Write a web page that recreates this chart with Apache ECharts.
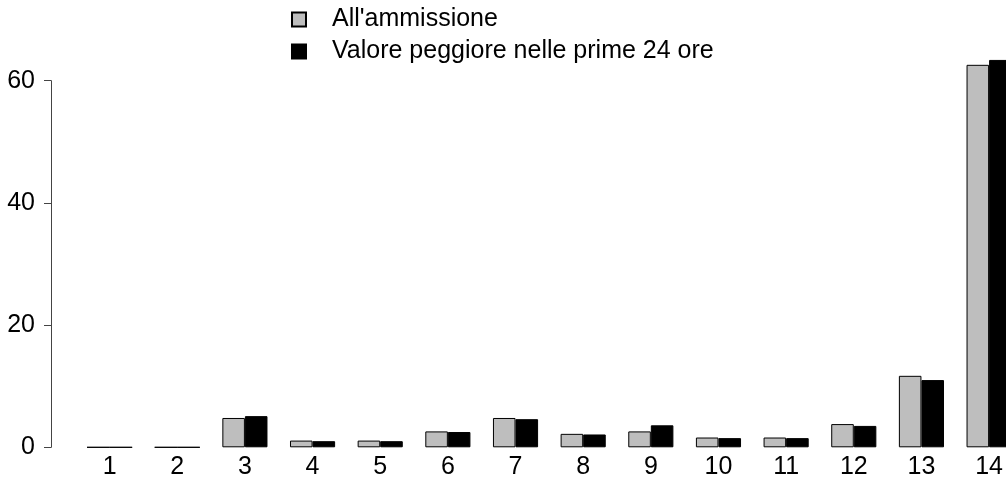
<!DOCTYPE html>
<html>
<head>
<meta charset="utf-8">
<script src="https://cdn.jsdelivr.net/npm/echarts@6/dist/echarts.min.js"></script>
<style>
  html, body { margin: 0; padding: 0; background: #fff; }
  #chart { width: 1006px; height: 482px; }
</style>
</head>
<body>
<div id="chart"></div>
<script>
const categories = ['1', '2', '3', '4', '5', '6', '7', '8', '9', '10', '11', '12', '13', '14']
const admission  = [0, 0, 4.8, 1.1, 1.1, 2.6, 4.8, 2.2, 2.6, 1.6, 1.6, 3.8, 11.7, 62.6]
const worst24h   = [0, 0, 5.1, 1.0, 1.0, 2.5, 4.6, 2.1, 3.6, 1.5, 1.5, 3.5, 11.0, 63.4]
const yTicks     = [0, 20, 40, 60]

const FONT = '"Liberation Sans", Arial, sans-serif'
const chart = echarts.init(document.getElementById('chart'), null, { renderer: 'canvas' })

const barStyle = color => ({ color, borderColor: '#000', borderWidth: 1 })

// category centres sit on the grid edges (boundaryGap false), so the last
// group can run past the right side of the canvas like the reference
chart.setOption({
  animation: false,
  backgroundColor: '#fff',
  textStyle: { fontFamily: FONT },
  legend: {
    orient: 'vertical',
    left: 291, top: 7, padding: 0,
    itemWidth: 14, itemHeight: 14,
    itemGap: 7,
    icon: 'rect',
    selectedMode: false,
    textStyle: { color: '#000', fontSize: 25, fontFamily: FONT, padding: [0, 0, 0, 21] },
    data: ['All\'ammissione', 'Valore peggiore nelle prime 24 ore'],
  },
  grid: { left: 109.6, top: 80.7, right: 16.3, bottom: 34.7, containLabel: false },
  xAxis: {
    type: 'category', data: categories, boundaryGap: false,
    axisLine: { show: false }, axisTick: { show: false },
    axisLabel: { color: '#000', fontSize: 25, fontFamily: FONT, margin: 7 },
    splitLine: { show: false },
  },
  yAxis: {
    type: 'value', min: 0, max: 60, interval: 20,
    offset: 58.6,
    axisLine: { show: true, lineStyle: { color: '#444', width: 1 } },
    axisTick: { show: true, length: 7, lineStyle: { color: '#444', width: 1 } },
    axisLabel: { color: '#000', fontSize: 25, fontFamily: FONT, margin: 16, customValues: yTicks },
    splitLine: { show: false },
  },
  series: [
    {
      name: 'All\'ammissione', type: 'bar', data: admission,
      barGap: '0%', barCategoryGap: '33.3%', clip: false,
      itemStyle: barStyle('#bebebe'),
    },
    {
      name: 'Valore peggiore nelle prime 24 ore', type: 'bar', data: worst24h,
      barGap: '0%', barCategoryGap: '33.3%', clip: false,
      itemStyle: barStyle('#000'),
    },
  ],
})
</script>
</body>
</html>
